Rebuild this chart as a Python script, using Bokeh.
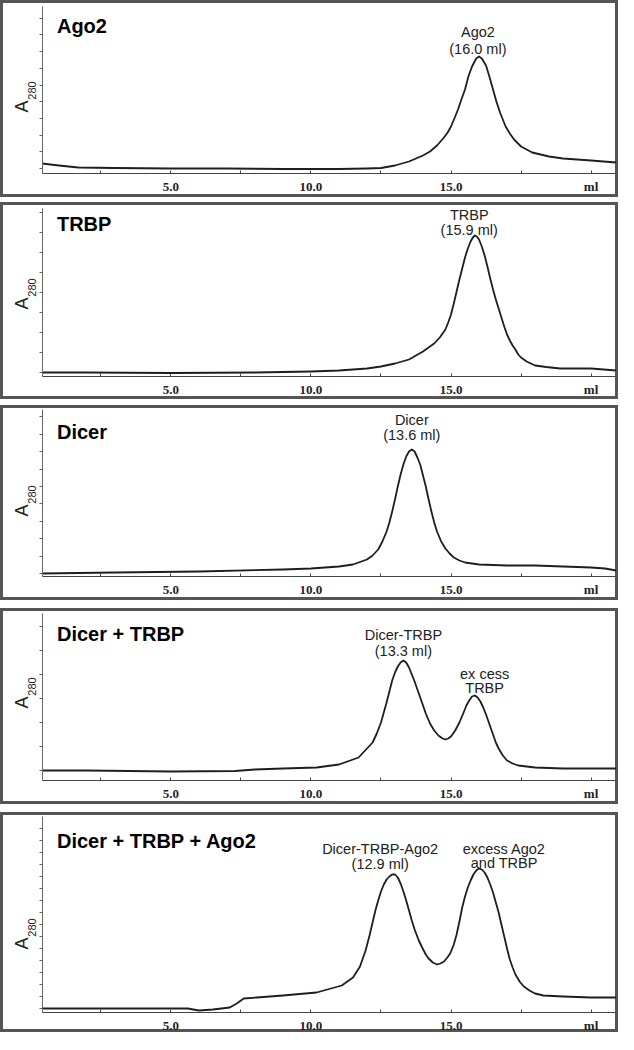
import numpy as np
from bokeh.plotting import figure
from bokeh.layouts import column
from bokeh.models import Range1d, LinearAxis, FixedTicker, CustomJSTickFormatter, Label
from bokeh.embed import file_html
from bokeh.resources import INLINE

# ---------------- data (elution volume in ml, A280 in arbitrary units) ----------------
ago2_ml = [0.4, 1.0, 1.7, 3.0, 5.0, 7.0, 9.0, 11.0, 12.0, 12.5, 13.0, 13.5, 13.75, 14.0, 14.25,
           14.5, 14.75, 14.88, 15.0, 15.12, 15.25, 15.37, 15.5, 15.62, 15.75, 15.9, 16.0, 16.1,
           16.25, 16.37, 16.5, 16.62, 16.75, 16.95, 17.1, 17.25, 17.5, 17.7, 17.9, 18.2, 18.5,
           19.0, 20.0, 20.9]
ago2_a = [10, 8, 6, 5.5, 5, 5, 4.5, 4.5, 5, 5.5, 8, 12, 15, 18, 22,
          28, 36, 41, 47, 55, 64, 74, 84, 97, 107, 115, 117, 115,
          108, 97, 84, 72, 61, 47, 40, 34, 27, 24, 21, 19, 17,
          15, 13, 11]

trbp_ml = [0.4, 2.0, 5.0, 8.0, 10.0, 11.0, 12.0, 12.5, 13.0, 13.5, 14.0, 14.2, 14.4, 14.6,
           14.8, 14.9, 15.0, 15.1, 15.2, 15.3, 15.4, 15.5, 15.6, 15.7, 15.78, 15.85, 15.92,
           16.0, 16.1, 16.2, 16.3, 16.4, 16.5, 16.6, 16.7, 16.8, 16.9, 17.0, 17.1, 17.2, 17.3,
           17.4, 17.5, 17.6, 17.7, 17.85, 18.0, 18.4, 18.9, 20.0, 20.9]
trbp_a = [4, 4, 3.5, 4, 5, 6, 8, 10, 13, 17, 25, 29, 33, 39,
          47, 54, 62, 73, 85, 97, 108, 119, 128, 135, 139, 141, 140,
          137, 130, 121, 110, 98, 87, 77, 68, 59, 50, 42, 36, 31, 27,
          22, 19, 17, 15, 13, 11, 9.5, 8, 8, 6]

dicer_ml = [0.4, 3.0, 6.0, 9.0, 10.0, 11.0, 11.5, 12.0, 12.2, 12.4, 12.55, 12.7, 12.8, 12.9,
            13.0, 13.1, 13.2, 13.3, 13.4, 13.5, 13.6, 13.7, 13.8, 13.9, 14.0, 14.1, 14.2, 14.3,
            14.4, 14.5, 14.65, 14.8, 14.95, 15.1, 15.3, 15.5, 16.0, 17.0, 18.0, 19.0, 20.0,
            20.5, 20.9]
dicer_a = [3, 4, 5, 7, 8, 10, 12, 17, 21, 27, 35, 45, 54, 65,
           77, 90, 102, 112, 120, 125, 127, 125, 119, 112, 101, 90, 77, 65,
           54, 45, 35, 28, 23, 19, 16, 14, 12, 11, 11, 10, 9,
           8, 6]

dt_ml = [0.4, 2.0, 5.0, 7.3, 8.0, 9.0, 10.2, 11.0, 11.7, 12.2, 12.35, 12.5, 12.6, 12.7, 12.8,
         12.9, 13.0, 13.1, 13.2, 13.3, 13.4, 13.5, 13.6, 13.7, 13.8, 13.9, 14.0, 14.1, 14.25,
         14.4, 14.55, 14.7, 14.8, 14.9, 15.0, 15.15, 15.3, 15.45, 15.55, 15.65, 15.75, 15.85,
         15.95, 16.05, 16.15, 16.25, 16.4, 16.5, 16.6, 16.7, 16.85, 17.0, 17.2, 17.4, 18.0,
         19.0, 20.9]
dt_a = [10, 10, 9, 9.5, 11, 12, 13, 16, 23, 38, 47, 58, 68, 78, 89,
        100, 108, 114, 118, 120, 118, 113, 106, 99, 91, 83, 75, 67, 57,
        50, 45, 42, 41, 42, 44, 50, 58, 68, 75, 80, 84, 85,
        83, 79, 73, 66, 54, 46, 38, 32, 25, 20, 17, 15, 13,
        12, 12]

dta_ml = [0.4, 2.0, 4.0, 5.6, 6.0, 6.5, 7.1, 7.35, 7.6, 8.07, 9.0, 10.2, 11.1, 11.5, 11.75,
          11.95, 12.1, 12.2, 12.3, 12.4, 12.5, 12.6, 12.7, 12.8, 12.9, 13.0, 13.1, 13.2, 13.3,
          13.4, 13.5, 13.6, 13.7, 13.85, 13.97, 14.1, 14.2, 14.35, 14.5, 14.62, 14.75, 14.87,
          14.97, 15.1, 15.2, 15.3, 15.4, 15.5, 15.6, 15.7, 15.8, 15.9, 16.0, 16.1, 16.2, 16.3,
          16.4, 16.5, 16.6, 16.7, 16.8, 16.9, 17.0, 17.1, 17.2, 17.3, 17.45, 17.6, 17.8, 18.0,
          18.3, 19.0, 20.0, 20.9]
dta_a = [4, 4, 4, 4, 2, 3, 5, 9, 14, 15, 17, 20, 27, 35, 46,
         62, 78, 90, 102, 112, 121, 128, 133, 136, 138, 138, 135, 129, 121,
         112, 102, 92, 83, 72, 65, 58, 54, 50, 48, 49, 51, 55,
         59, 68, 78, 91, 105, 116, 125, 132, 138, 142, 144, 143, 140, 135,
         128, 120, 110, 100, 88, 76, 64, 53, 45, 38, 31, 26, 22, 19,
         17, 16, 15, 15]

titles = ["Ago2", "TRBP", "Dicer", "Dicer + TRBP", "Dicer + TRBP + Ago2"]
x_tick_labels = {5: "5.0", 10: "10.0", 15: "15.0", 20: "ml"}

# peak annotations: (ml, A280 position, text)
peak_labels = [
    [(15.96, 142, "Ago2"), (15.96, 125, "(16.0 ml)")],
    [(15.65, 162, "TRBP"), (15.65, 147, "(15.9 ml)")],
    [(13.6, 157, "Dicer"), (13.6, 142, "(13.6 ml)")],
    [(13.3, 146, "Dicer-TRBP"), (13.3, 130, "(13.3 ml)"), (16.2, 107, "ex cess"), (16.2, 93, "TRBP")],
    [(12.47, 164, "Dicer-TRBP-Ago2"), (12.47, 149, "(12.9 ml)"), (16.9, 164, "excess Ago2"), (16.9, 150, "and TRBP")],
]

series = [(ago2_ml, ago2_a), (trbp_ml, trbp_a), (dicer_ml, dicer_a), (dt_ml, dt_a), (dta_ml, dta_a)]

# ---------------- layout settings ----------------
W = 618
heights = [197, 197, 195, 196, 220]
gaps = [0, 5, 6, 8, 8]
y_ranges = [(-24, 173), (-23, 174), (-24, 171), (-24, 172), (-20, 200)]
y_axis_top = [167, 168, 167, 167, 196]
y_tick_start = [5, 4, 3, 10, 4]
y_tick_step = [16.7, 20, 17.4, 24, 12]
title_y = [148, 153, 145, 147, 172]
a_label_y = [67, 73, 66, 78, 69]
X0, X1 = -1.085, 20.98
AX_X = 0.41
xfmt = ("const m={" + ",".join(f"{k}:'{v}'" for k, v in x_tick_labels.items()) +
        "}; return m[tick] || '';")

figs = []
for i in range(5):
    p = figure(width=W, height=heights[i], x_range=Range1d(X0, X1),
               y_range=Range1d(*y_ranges[i]), output_backend="svg",
               toolbar_location=None, x_axis_location=None, y_axis_location=None,
               min_border=0)
    p.grid.visible = False
    p.outline_line_color = "#555555"
    p.outline_line_width = 5
    p.background_fill_color = "white"
    p.border_fill_color = "white"
    if gaps[i]:
        p.margin = (gaps[i], 0, 0, 0)

    xaxis = LinearAxis(fixed_location=0, bounds=(AX_X, 20.9),
                       ticker=FixedTicker(ticks=[2.5, 5, 7.5, 10, 12.5, 15, 17.5, 20]),
                       formatter=CustomJSTickFormatter(code=xfmt))
    xaxis.axis_line_color = "#444444"
    xaxis.axis_line_width = 1
    xaxis.major_tick_line_color = "#444444"
    xaxis.major_tick_in = 3
    xaxis.major_tick_out = 0
    xaxis.minor_tick_line_color = None
    xaxis.major_label_standoff = 5
    xaxis.major_label_text_font = "Liberation Serif"
    xaxis.major_label_text_font_style = "bold"
    xaxis.major_label_text_font_size = "13px"
    xaxis.major_label_text_color = "#222222"
    p.add_layout(xaxis, "below")

    yt = list(np.arange(y_tick_start[i], y_axis_top[i], y_tick_step[i]))
    yaxis = LinearAxis(fixed_location=AX_X, bounds=(0, y_axis_top[i]),
                       ticker=FixedTicker(ticks=yt),
                       formatter=CustomJSTickFormatter(code="return '';"))
    yaxis.axis_line_color = "#666666"
    yaxis.axis_line_width = 1
    yaxis.major_tick_line_color = "#666666"
    yaxis.major_tick_in = 0
    yaxis.major_tick_out = 3
    yaxis.minor_tick_line_color = None
    p.add_layout(yaxis, "left")

    ml, a = series[i]
    p.line(ml, a, line_color="#1e1e1e", line_width=1.8, line_join="round")

    p.add_layout(Label(x=0.93, y=title_y[i], text=titles[i], text_font="Liberation Sans",
                       text_font_style="bold", text_font_size="20px", text_align="left",
                       text_baseline="middle", text_color="black"))
    p.add_layout(Label(x=-0.32, y=a_label_y[i], text="A", text_font="Liberation Sans",
                       text_font_size="18px", angle=np.pi / 2, text_align="center",
                       text_baseline="middle", text_color="#222222"))
    p.add_layout(Label(x=0.05, y=a_label_y[i] + 16, text="280", text_font="Liberation Sans",
                       text_font_size="11px", angle=np.pi / 2, text_align="center",
                       text_baseline="middle", text_color="#222222"))
    for (lx, ly, txt) in peak_labels[i]:
        p.add_layout(Label(x=lx, y=ly, text=txt, text_font="Liberation Sans",
                           text_font_size="14.5px", text_align="center",
                           text_baseline="middle", text_color="#222222"))
    figs.append(p)

layout = column(*figs, spacing=0)
open("out.html", "w").write(file_html(layout, INLINE))
